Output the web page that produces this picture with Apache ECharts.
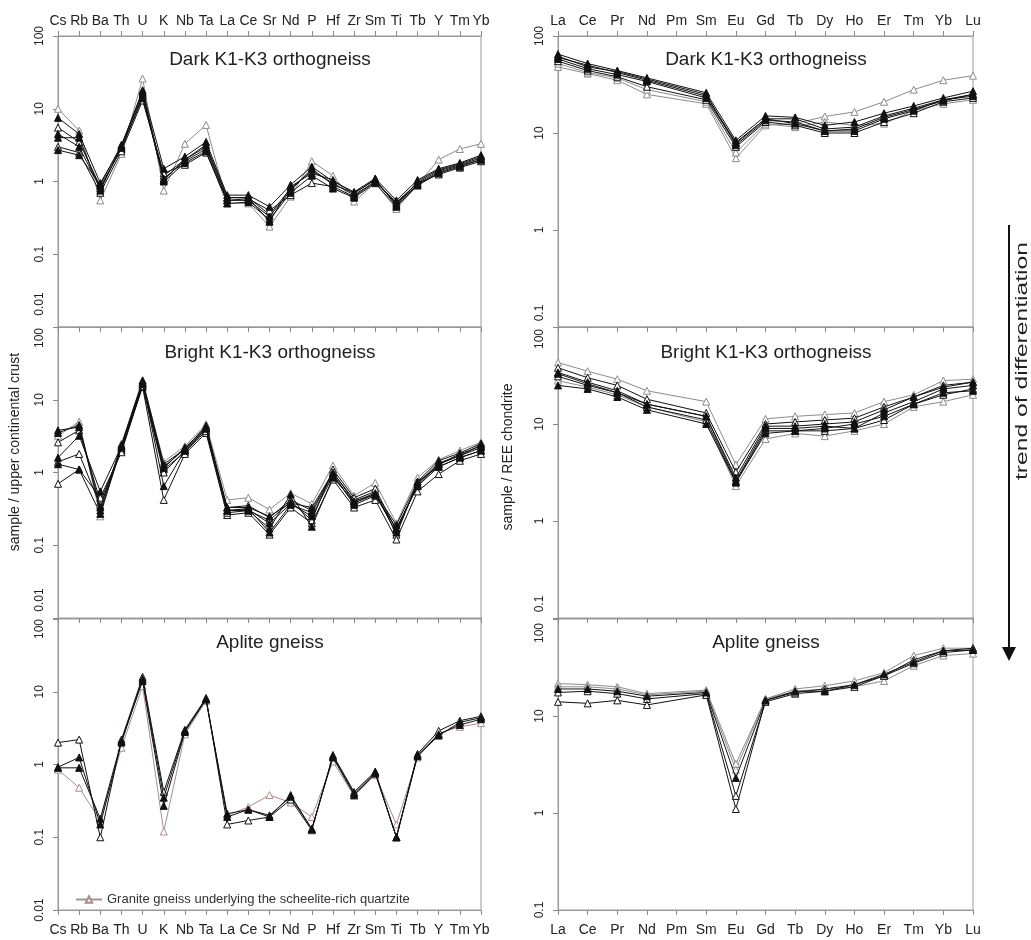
<!DOCTYPE html>
<html><head><meta charset="utf-8">
<script src="https://cdn.jsdelivr.net/npm/echarts/dist/echarts.min.js"></script>
<style>html,body{margin:0;padding:0;background:#fff}#c{width:1031px;height:940px}</style>
</head><body><div id="c"></div><script>
const traceElements = ['Cs','Rb','Ba','Th','U','K','Nb','Ta','La','Ce','Sr','Nd','P','Hf','Zr','Sm','Ti','Tb','Y','Tm','Yb'];
const reeElements = ['La','Ce','Pr','Nd','Pm','Sm','Eu','Gd','Tb','Dy','Ho','Er','Tm','Yb','Lu'];
const traceTickLabels = ['0.01','0.1','1','10','100'];
const reeTickLabels = ['0.1','1','10','100'];
const panelTitles = ['Dark K1-K3 orthogneiss','Bright K1-K3 orthogneiss','Aplite gneiss'];
const legendName = 'Granite gneiss underlying the scheelite-rich quartzite';

// sample / upper continental crust
const darkTrace = [
 [10,5,0.55,2.4,26,0.75,3.3,6.0,0.5,0.5,0.24,0.62,1.9,1.2,0.53,0.95,0.42,0.9,2.0,2.8,3.3],
 [7.5,4.5,0.95,3.0,18,1.5,2.2,3.5,0.65,0.65,0.45,0.9,1.6,1.0,0.72,1.1,0.55,1.05,1.5,1.8,2.3],
 [5.5,3.5,0.85,2.8,15,1.2,2.0,3.0,0.6,0.6,0.35,0.8,1.4,0.95,0.65,1.0,0.5,0.95,1.4,1.7,2.1],
 [4.5,3.0,0.8,2.9,14,1.1,1.9,2.8,0.55,0.55,0.33,0.75,1.5,0.9,0.7,1.05,0.48,0.9,1.35,1.65,2.0],
 [4.0,4.0,0.75,3.1,16,1.0,1.8,2.6,0.5,0.52,0.3,0.7,1.2,0.8,0.6,0.95,0.45,0.88,1.3,1.6,2.0],
 [3.0,2.5,0.7,2.6,13,1.3,1.7,2.5,0.55,0.58,0.4,0.65,0.95,0.85,0.62,1.0,0.52,0.95,1.25,1.55,1.9],
 [2.7,2.3,0.9,3.2,17,1.05,2.0,3.2,0.6,0.6,0.28,0.85,1.3,1.05,0.68,1.08,0.46,1.0,1.45,1.75,2.2]
];
const brightTrace = [
 [3.8,4.2,0.3,2.2,17,1.2,2.1,4.2,0.3,0.31,0.2,0.37,0.25,0.9,0.38,0.5,0.17,0.65,1.3,1.8,2.3],
 [3.2,5.0,0.25,2.5,18,1.4,2.3,4.6,0.42,0.45,0.31,0.52,0.37,1.25,0.48,0.72,0.2,0.85,1.5,2.0,2.6],
 [2.6,3.8,0.4,2.0,16,1.1,1.9,3.8,0.33,0.35,0.24,0.42,0.3,1.0,0.42,0.55,0.14,0.75,1.2,1.6,2.0],
 [1.6,3.2,0.55,2.3,17.5,0.65,2.0,4.0,0.3,0.3,0.17,0.5,0.18,0.85,0.4,0.5,0.15,0.7,1.35,1.7,2.2],
 [1.4,1.8,0.35,2.1,15,0.42,1.8,3.5,0.26,0.28,0.14,0.33,0.2,0.8,0.33,0.42,0.12,0.55,0.95,1.45,1.8],
 [1.3,1.1,0.27,2.2,16.5,1.15,2.2,4.1,0.3,0.32,0.15,0.36,0.28,0.95,0.36,0.48,0.17,0.65,1.2,1.6,2.0],
 [0.7,1.1,0.45,1.9,15.5,1.0,2.0,3.7,0.28,0.3,0.22,0.4,0.22,1.1,0.45,0.6,0.16,0.7,1.3,1.7,2.4],
 [3.5,4.5,0.33,2.4,18.5,1.3,2.1,4.4,0.33,0.33,0.25,0.38,0.33,1.0,0.4,0.52,0.19,0.75,1.45,1.85,2.5]
];
const apliteTrace = [
 [2.0,2.2,0.1,2.2,16,0.42,3.0,8.2,0.15,0.17,0.19,0.33,0.125,1.35,0.42,0.8,0.1,1.4,2.9,4.0,4.6],
 [0.92,1.25,0.15,2.0,15,0.35,2.9,8.0,0.19,0.24,0.19,0.38,0.13,1.3,0.4,0.78,0.1,1.35,2.6,3.5,4.2],
 [0.9,0.9,0.18,2.1,14,0.27,2.8,7.8,0.21,0.24,0.2,0.36,0.13,1.25,0.38,0.75,0.1,1.3,2.5,3.8,4.4],
 [0.85,0.48,0.17,1.7,12,0.12,2.6,7.5,0.2,0.26,0.38,0.3,0.19,1.1,0.37,0.72,0.15,1.25,2.7,3.3,3.7]
];
// sample / REE chondrite (Pm not measured)
const darkREE = [
 [48,41,35,25,null,20,5.5,12,12.5,14.8,16.5,21,28,35,39],
 [65,52,44,37,null,26,8.4,15,14.5,12,13,16,19,23,27],
 [60,50,42,35,null,24,8.0,14,14,11,11.5,15,18,22,25],
 [58,46,40,34,null,23,7.8,14,12.5,10.5,10.5,14,17,22,24],
 [55,44,38,30,null,22,7.2,13,12,10,10,13,16,21,23],
 [52,42,37,28,null,21,6.3,12.5,11.5,13,12,12.5,17,20,22],
 [62,48,43,36,null,25,7.5,13.5,13,10.5,11,14.5,17.5,21.5,25]
];
const brightREE = [
 [43,35,29,22,null,17,3.8,11.3,12,12.5,13,17,20,28,29],
 [38,30,25,18,null,13,3.2,10,10.5,11,11.5,15,19,25,27],
 [34,27,22,16,null,12,2.8,9.5,9.5,10,10.5,14,19,24,27],
 [33,26,21,16,null,12,2.6,9,9,9.5,9,13,17,23,25],
 [31,25,21,15,null,11,2.5,8.5,8.5,8.5,9,11,16,20,23],
 [28,24,20,15,null,10.5,2.3,7,8,7.5,8.5,10,15,17,20],
 [25,23,19,14,null,10,2.5,8,8.5,9,10,12,16,21,22]
];
const apliteREE = [
 [21.6,21,20,17,null,18.5,3.2,15,19,20.5,23,28,42,50,50],
 [19,19,18,16,null,17.5,2.3,14.5,18,18,21,27,36,47,48],
 [17.5,18,17,15,null,17,1.5,14,17,18,20,26,35,45,48],
 [14,13.5,14.5,13,null,16.5,1.1,14.5,17.5,19,21,26,38,47,50],
 [20,20,19,16.5,null,18,2.8,15,18,19,20,23,33,42,44]
];

const darkTraceStyle = ['g','f','o','f','f','o','f'];
const brightTraceStyle = ['f','g','o','f','o','f','o','f'];
const apliteTraceStyle = ['o','f','f','p'];
const darkREEStyle = ['g','f','o','f','o','g','f'];
const brightREEStyle = ['g','o','f','f','o','g','f'];
const apliteREEStyle = ['g','f','o','o','g'];

const FONT = 'Liberation Sans, Arial, sans-serif';
const L = {left:58, width:423}, R = {left:558, width:415};
const tops = [36, 327, 619], H = 291;
const grids = [];
[L, R].forEach(c => tops.forEach(t => grids.push({left:c.left, width:c.width, top:t, height:H, show:true, borderColor:'#999', borderWidth:1, backgroundColor:'transparent'})));

function mkX(gi, cats, pos, showLabel) {
  return {type:'category', gridIndex:gi, data:cats, position:pos, boundaryGap:false,
    axisLine:{show:true, lineStyle:{color:'#999'}}, axisTick:{show:true, alignWithLabel:true, length:5, lineStyle:{color:'#888'}},
    axisLabel:{show:showLabel, interval:0, fontSize:14, color:'#222', fontFamily:FONT, margin: pos==='top'?8:13, hideOverlap:false},
    splitLine:{show:false}};
}
// label shifts along the axis at shared panel borders (px of padding)
const minShift = {0:46, 1:36, 3:28, 4:28};
const maxShift = {1:22, 2:20, 4:24, 5:28};
function mkY(gi, mn, mx, labels) {
  const base = {fontSize:12, color:'#222', fontFamily:FONT};
  return {type:'log', logBase:10, gridIndex:gi, min:mn, max:mx, splitNumber: Math.round(Math.log10(mx/mn)),
    axisLine:{show:true, lineStyle:{color:'#999'}}, axisTick:{show:true, length:5, lineStyle:{color:'#888'}},
    axisLabel:{rotate:90, fontSize:12, color:'#222', fontFamily:FONT, margin:12,
      rich:{
        lo:Object.assign({padding:[0,0,0,minShift[gi] || 0]}, base),
        hi:Object.assign({padding:[0,maxShift[gi] || 0,0,0]}, base)
      },
      formatter: v => {
        const t = labels.find(t => Math.abs(Math.log10(+t) - Math.log10(v)) < 1e-6) || '';
        if (Math.abs(v - mn) / mn < 1e-6 && minShift[gi]) return '{lo|' + t + '}';
        if (Math.abs(v - mx) / mx < 1e-6 && maxShift[gi]) return '{hi|' + t + '}';
        return t;
      }},
    splitLine:{show:false}};
}
const xAxes = [], yAxes = [];
for (let i = 0; i < 6; i++) {
  const cats = i < 3 ? traceElements : reeElements;
  xAxes.push(mkX(i, cats, 'bottom', i === 2 || i === 5));
  yAxes.push(i < 3 ? mkY(i, 0.01, 100, traceTickLabels) : mkY(i, 0.1, 100, reeTickLabels));
}
xAxes.push(mkX(0, traceElements, 'top', true));
xAxes.push(mkX(3, reeElements, 'top', true));

function panelSeries(rows, styles, idx, prefix) {
  return rows.map((r, i) => {
    const s = styles[i];
    const col = s === 'g' ? '#8c8c8c' : s === 'p' ? '#a98e8e' : '#111';
    const fill = s === 'f' ? '#111' : '#fff';
    return {type:'line', name: s === 'p' ? legendName : prefix + (i + 1), xAxisIndex: idx, yAxisIndex: idx,
      data: r, connectNulls: true, symbol:'triangle', symbolSize:7, showAllSymbol:true,
      lineStyle:{color: col, width: 1}, itemStyle:{color: fill, borderColor: col, borderWidth: 1},
      emphasis:{disabled:true}, z: s === 'f' ? 4 : (s === 'g' || s === 'p') ? 2 : 3};
  });
}
const series = [].concat(
  panelSeries(darkTrace, darkTraceStyle, 0, 'dt'),
  panelSeries(brightTrace, brightTraceStyle, 1, 'bt'),
  panelSeries(apliteTrace, apliteTraceStyle, 2, 'at'),
  panelSeries(darkREE, darkREEStyle, 3, 'dr'),
  panelSeries(brightREE, brightREEStyle, 4, 'br'),
  panelSeries(apliteREE, apliteREEStyle, 5, 'ar')
);

const graphics = [];
const titleY = [60, 353, 643];
panelTitles.forEach((t, i) => {
  graphics.push({type:'text', x:270, y:titleY[i], style:{text:t, fontSize:19, fontFamily:FONT, fill:'#222', align:'center', verticalAlign:'middle'}});
  graphics.push({type:'text', x:766, y:titleY[i], style:{text:t, fontSize:19, fontFamily:FONT, fill:'#222', align:'center', verticalAlign:'middle'}});
});
graphics.push({type:'text', x:15, y:452, rotation:Math.PI/2, style:{text:'sample / upper continental crust', fontSize:14, fontFamily:FONT, fill:'#222', align:'center', verticalAlign:'middle'}});
graphics.push({type:'text', x:508, y:457, rotation:Math.PI/2, style:{text:'sample / REE chondrite', fontSize:14, fontFamily:FONT, fill:'#222', align:'center', verticalAlign:'middle'}});
graphics.push({type:'line', shape:{x1:1009, y1:225, x2:1009, y2:650}, style:{stroke:'#111', lineWidth:2}});
graphics.push({type:'polygon', shape:{points:[[1002,647],[1016,647],[1009,661]]}, style:{fill:'#111'}});
graphics.push({type:'text', x:1022, y:361, rotation:Math.PI/2, scaleX:1.45, style:{text:'trend of differentiation', fontSize:17, fontFamily:FONT, fill:'#222', align:'center', verticalAlign:'middle'}});

const chart = echarts.init(document.getElementById('c'), null, {renderer:'canvas'});
chart.setOption({
  animation:false,
  backgroundColor:'#fff',
  grid: grids, xAxis: xAxes, yAxis: yAxes, series: series,
  legend:{data:[legendName], left:70, top:888, itemWidth:26, itemHeight:8, itemGap:6,
    textStyle:{fontSize:13, color:'#333', fontFamily:FONT}},
  graphic: graphics
});
</script></body></html>
